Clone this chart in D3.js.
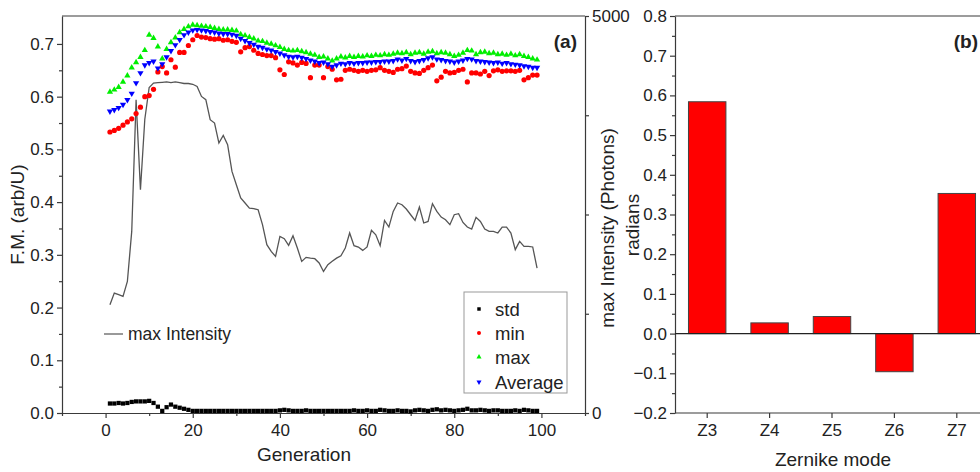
<!DOCTYPE html>
<html>
<head>
<meta charset="utf-8">
<script src="https://cdn.jsdelivr.net/npm/d3@7/dist/d3.min.js"></script>
<style>
  html, body { margin: 0; padding: 0; background: #fff; }
  svg { display: block; font-family: "Liberation Sans", Arial, Helvetica, sans-serif; }
  .axis path, .axis line { stroke: #3a3a3a; stroke-width: 1.2; }
  .axis text { fill: #222; font-size: 17px; }
</style>
</head>
<body>
<svg id="chart" width="980" height="472"></svg>
<script>
// ---- Panel (a): genetic optimisation per generation ----
const generations = d3.range(1, 100);

const fmMax = [0.609,0.613,0.618,0.628,0.640,0.655,0.665,0.675,0.688,0.717,0.711,0.695,0.672,0.690,0.703,0.712,0.722,0.728,0.733,0.736,
  0.735,0.734,0.733,0.732,0.730,0.728,0.727,0.727,0.726,0.725,0.718,0.716,0.713,0.710,0.706,0.705,0.702,0.700,0.697,0.694,
  0.690,0.688,0.687,0.688,0.686,0.684,0.681,0.679,0.675,0.676,0.672,0.668,0.672,0.676,0.674,0.677,0.675,0.677,0.676,0.678,
  0.677,0.679,0.678,0.680,0.679,0.681,0.683,0.682,0.684,0.680,0.683,0.684,0.681,0.685,0.686,0.682,0.684,0.683,0.680,0.677,
  0.679,0.683,0.688,0.687,0.680,0.684,0.685,0.682,0.683,0.680,0.681,0.679,0.681,0.678,0.680,0.677,0.675,0.672,0.670];

const fmAvg = [0.572,0.575,0.579,0.585,0.594,0.606,0.626,0.645,0.660,0.664,0.667,0.654,0.662,0.675,0.687,0.698,0.708,0.717,0.722,0.726,
  0.727,0.726,0.725,0.723,0.722,0.720,0.719,0.719,0.718,0.716,0.710,0.706,0.702,0.699,0.695,0.693,0.690,0.688,0.685,0.682,
  0.679,0.676,0.675,0.676,0.674,0.672,0.669,0.667,0.664,0.665,0.662,0.657,0.660,0.663,0.662,0.664,0.663,0.664,0.664,0.665,
  0.665,0.666,0.666,0.667,0.667,0.668,0.671,0.669,0.672,0.668,0.666,0.668,0.670,0.673,0.675,0.671,0.670,0.668,0.667,0.665,
  0.667,0.669,0.672,0.671,0.668,0.667,0.666,0.665,0.664,0.665,0.663,0.664,0.662,0.661,0.660,0.658,0.657,0.655,0.655];

const fmMin = [0.533,0.536,0.540,0.546,0.552,0.558,0.568,0.580,0.600,0.602,0.614,0.647,0.657,0.645,0.670,0.656,0.684,0.684,0.697,0.708,
  0.716,0.713,0.712,0.710,0.709,0.710,0.707,0.708,0.705,0.703,0.685,0.693,0.695,0.688,0.682,0.680,0.678,0.678,0.674,0.651,
  0.642,0.666,0.664,0.660,0.665,0.663,0.636,0.660,0.660,0.636,0.657,0.652,0.632,0.633,0.650,0.652,0.650,0.648,0.650,0.648,
  0.650,0.651,0.655,0.650,0.648,0.646,0.652,0.653,0.658,0.648,0.645,0.644,0.650,0.655,0.660,0.630,0.637,0.648,0.645,0.646,
  0.650,0.652,0.628,0.645,0.645,0.643,0.648,0.640,0.649,0.651,0.648,0.649,0.649,0.648,0.650,0.632,0.636,0.641,0.641];

const fmStd = [0.018,0.018,0.019,0.018,0.019,0.021,0.022,0.022,0.022,0.023,0.019,0.012,0.004,0.011,0.016,0.012,0.010,0.008,0.006,0.004,
  0.004,0.004,0.004,0.004,0.004,0.004,0.004,0.004,0.004,0.004,0.004,0.004,0.004,0.004,0.004,0.004,0.004,0.004,0.004,0.005,
  0.006,0.005,0.004,0.004,0.004,0.005,0.004,0.004,0.004,0.004,0.004,0.004,0.004,0.004,0.004,0.004,0.005,0.004,0.004,0.005,
  0.004,0.004,0.006,0.005,0.004,0.004,0.005,0.004,0.004,0.003,0.005,0.006,0.005,0.004,0.006,0.007,0.005,0.006,0.005,0.004,
  0.005,0.006,0.008,0.005,0.005,0.006,0.005,0.004,0.005,0.005,0.004,0.004,0.004,0.005,0.004,0.006,0.005,0.004,0.004];

const maxIntensity = [1364,1511,1490,1469,1657,2287,3946,2812,3700,4100,4156,4160,4165,4170,4160,4170,4160,4150,4150,4140,
  4113,3987,3946,3694,3652,3400,3496,3379,3043,2875,2708,2645,2580,2573,2560,2372,2120,2035,1972,2224,
  2195,2111,2233,2078,1909,1960,1950,1943,1889,1783,1868,1910,1950,1981,2078,2267,2107,2090,2048,2091,
  2300,2245,2107,2426,2342,2539,2645,2623,2569,2497,2426,2594,2393,2413,2636,2539,2468,2434,2372,2497,
  2510,2400,2342,2317,2464,2413,2317,2287,2287,2267,2342,2342,2267,2057,2161,2098,2098,2091,1826];

const fmTicks = [0, 0.1, 0.2, 0.3, 0.4, 0.5, 0.6, 0.7];
const genTicks = [0, 20, 40, 60, 80, 100];
const intensityTicks = [0, 1250, 2500, 3750, 5000];
const legendLabels = ["std", "min", "max", "Average"];

// ---- Panel (b): Zernike coefficients ----
const modes = ["Z3", "Z4", "Z5", "Z6", "Z7"];
const radians = [0.584, 0.027, 0.043, -0.096, 0.353];
const radTicks = [-0.2, -0.1, 0.0, 0.1, 0.2, 0.3, 0.4, 0.5, 0.6, 0.7, 0.8];

const svg = d3.select("#chart");
svg.append("rect").attr("width", 980).attr("height", 472).attr("fill", "#fff");

// ===== Panel (a) =====
const A = { left: 62, right: 585, top: 16, bottom: 413 };
const x = d3.scaleLinear().domain([-10, 110]).range([A.left, A.right]);
const yL = d3.scaleLinear().domain([0, 0.753]).range([A.bottom, A.top]);
const yR = d3.scaleLinear().domain([0, 5000]).range([A.bottom, A.top]);

const ga = svg.append("g");

// frame top line
ga.append("line").attr("x1", A.left).attr("x2", A.right).attr("y1", A.top).attr("y2", A.top)
  .attr("stroke", "#3a3a3a").attr("stroke-width", 1.2);

// minor ticks
ga.append("g").attr("class", "axis").attr("transform", `translate(${A.left},0)`)
  .call(d3.axisLeft(yL).tickValues(d3.range(0.05, 0.75, 0.1)).tickSize(3).tickFormat(""))
  .call(g => g.select(".domain").remove());
ga.append("g").attr("class", "axis").attr("transform", `translate(0,${A.bottom})`)
  .call(d3.axisBottom(x).tickValues([-10, 10, 30, 50, 70, 90, 110]).tickSize(3).tickFormat(""))
  .call(g => g.select(".domain").remove());

// major axes
ga.append("g").attr("class", "axis").attr("transform", `translate(${A.left},0)`)
  .call(d3.axisLeft(yL).tickValues(fmTicks).tickSize(5).tickSizeOuter(0).tickPadding(3).tickFormat(d3.format(".1f")));
ga.append("g").attr("class", "axis").attr("transform", `translate(0,${A.bottom})`)
  .call(d3.axisBottom(x).tickValues(genTicks).tickSize(5).tickSizeOuter(0).tickPadding(6).tickFormat(d3.format("d")));
ga.append("g").attr("class", "axis").attr("transform", `translate(${A.right},0)`)
  .call(d3.axisRight(yR).tickValues(intensityTicks).tickSize(4).tickSizeOuter(0).tickPadding(3)
    .tickFormat(d => (d === 0 || d === 5000) ? String(d) : ""));

// max intensity line (right axis)
ga.append("path")
  .datum(generations.map((g, i) => [g, maxIntensity[i]]))
  .attr("fill", "none").attr("stroke", "#555").attr("stroke-width", 1.3)
  .attr("d", d3.line().x(d => x(d[0])).y(d => yR(d[1])));

// marker series
const triUp = d3.symbol().type(d3.symbolTriangle).size(17)();
const squareSym = d3.symbol().type(d3.symbolSquare).size(18)();

ga.append("g").selectAll("path").data(fmStd).join("path")
  .attr("d", squareSym)
  .attr("transform", (d, i) => `translate(${x(generations[i])},${yL(d)})`)
  .attr("fill", "#000");

ga.append("g").selectAll("circle").data(fmMin).join("circle")
  .attr("cx", (d, i) => x(generations[i])).attr("cy", d => yL(d)).attr("r", 2.6)
  .attr("fill", "#ff0000");

ga.append("g").selectAll("path").data(fmMax).join("path")
  .attr("d", triUp)
  .attr("transform", (d, i) => `translate(${x(generations[i])},${yL(d)})`)
  .attr("fill", "#00ee00");

ga.append("g").selectAll("path").data(fmAvg).join("path")
  .attr("d", triUp)
  .attr("transform", (d, i) => `translate(${x(generations[i])},${yL(d)}) rotate(180)`)
  .attr("fill", "#0000ff");

// axis titles
ga.append("text").attr("transform", `translate(24,${(A.top + A.bottom) / 2}) rotate(-90)`)
  .attr("text-anchor", "middle").attr("font-size", 19).attr("fill", "#222").text("F.M. (arb/U)");
ga.append("text").attr("x", 304).attr("y", 461)
  .attr("text-anchor", "middle").attr("font-size", 19).attr("fill", "#222").text("Generation");
ga.append("text").attr("transform", `translate(614,228) rotate(-90)`)
  .attr("text-anchor", "middle").attr("font-size", 19).attr("fill", "#222").text("max Intensity (Photons)");
ga.append("text").attr("x", 577).attr("y", 48).attr("text-anchor", "end")
  .attr("font-size", 19).attr("font-weight", "bold").attr("fill", "#222").text("(a)");

// legend: max intensity line
ga.append("line").attr("x1", 104).attr("x2", 123).attr("y1", 334).attr("y2", 334)
  .attr("stroke", "#777").attr("stroke-width", 1.5);
ga.append("text").attr("x", 128).attr("y", 340).attr("font-size", 17.5).attr("fill", "#222").text("max Intensity");

// legend: marker series
const lg = ga.append("g");
lg.append("rect").attr("x", 464).attr("y", 292).attr("width", 103).attr("height", 101)
  .attr("fill", "#fff").attr("stroke", "#999").attr("stroke-width", 1);
const legendY = [309, 333, 357, 382];
lg.append("path").attr("d", d3.symbol().type(d3.symbolSquare).size(12)())
  .attr("transform", `translate(479,${legendY[0]})`).attr("fill", "#000");
lg.append("circle").attr("cx", 479).attr("cy", legendY[1]).attr("r", 2).attr("fill", "#ff0000");
lg.append("path").attr("d", d3.symbol().type(d3.symbolTriangle).size(11)())
  .attr("transform", `translate(479,${legendY[2]})`).attr("fill", "#00ee00");
lg.append("path").attr("d", d3.symbol().type(d3.symbolTriangle).size(11)())
  .attr("transform", `translate(479,${legendY[3]}) rotate(180)`).attr("fill", "#0000ff");
lg.selectAll("text.lbl").data(legendLabels).join("text").attr("class", "lbl")
  .attr("x", 495).attr("y", (d, i) => legendY[i] + 6.5)
  .attr("font-size", 18.5).attr("fill", "#222").text(d => d);

// ===== Panel (b) =====
const B = { left: 675, right: 1000, top: 16, bottom: 413 };
const xb = d3.scaleBand().domain(modes).range([676, 988]).paddingInner(0.4).paddingOuter(0.2);
const yb = d3.scaleLinear().domain([-0.2, 0.8]).range([B.bottom, B.top]);

const gb = svg.append("g");
gb.append("line").attr("x1", B.left).attr("x2", B.right).attr("y1", B.top).attr("y2", B.top)
  .attr("stroke", "#3a3a3a").attr("stroke-width", 1.2);

gb.append("g").attr("class", "axis").attr("transform", `translate(${B.left},0)`)
  .call(d3.axisLeft(yb).tickValues(d3.range(-0.15, 0.8, 0.1)).tickSize(3).tickFormat(""))
  .call(g => g.select(".domain").remove());
gb.append("g").attr("class", "axis").attr("transform", `translate(${B.left},0)`)
  .call(d3.axisLeft(yb).tickValues(radTicks).tickSize(5).tickSizeOuter(0).tickPadding(3)
    .tickFormat(d => d3.format(".1f")(Math.abs(d) < 1e-9 ? 0 : d)));
gb.append("g").attr("class", "axis").attr("transform", `translate(0,${B.bottom})`)
  .call(d3.axisBottom(xb).tickSize(5).tickSizeOuter(0).tickPadding(6))
  .call(g => g.select(".domain").attr("d", `M${B.left},0H${B.right}`));

gb.append("g").selectAll("rect").data(radians).join("rect")
  .attr("x", (d, i) => xb(modes[i]))
  .attr("width", xb.bandwidth())
  .attr("y", d => yb(Math.max(0, d)))
  .attr("height", d => Math.abs(yb(d) - yb(0)))
  .attr("fill", "#ff0000").attr("stroke", "#444").attr("stroke-width", 1);

gb.append("line").attr("x1", B.left).attr("x2", B.right).attr("y1", yb(0)).attr("y2", yb(0))
  .attr("stroke", "#222").attr("stroke-width", 1.2);

gb.append("text").attr("transform", `translate(639,225) rotate(-90)`)
  .attr("text-anchor", "middle").attr("font-size", 19).attr("fill", "#222").text("radians");
gb.append("text").attr("x", 833).attr("y", 466)
  .attr("text-anchor", "middle").attr("font-size", 19).attr("fill", "#222").text("Zernike mode");
gb.append("text").attr("x", 978).attr("y", 48).attr("text-anchor", "end")
  .attr("font-size", 19).attr("font-weight", "bold").attr("fill", "#222").text("(b)");
</script>
</body>
</html>
